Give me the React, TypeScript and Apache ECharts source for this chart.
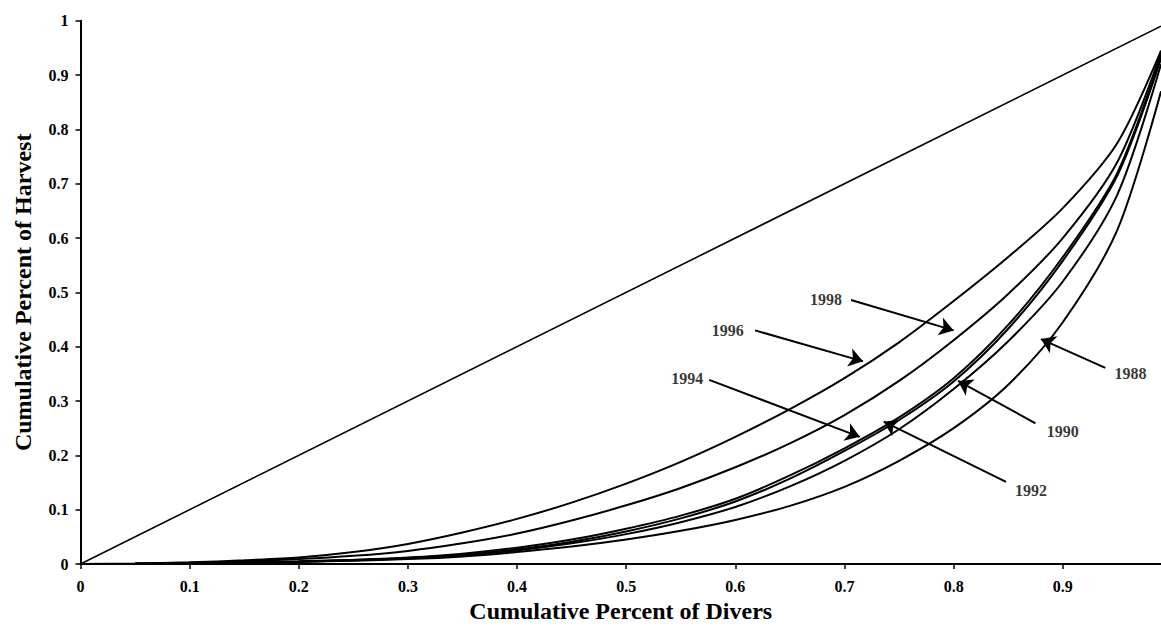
import { useEffect, useRef } from "react";
import * as echarts from "echarts";

const xPoints = [0, 0.05, 0.1, 0.15, 0.2, 0.25, 0.3, 0.35, 0.4, 0.45, 0.5, 0.55, 0.6, 0.65, 0.7, 0.75, 0.8, 0.85, 0.9, 0.95, 0.99];
const y1996 = [0, 0.001, 0.003, 0.007, 0.012, 0.022, 0.037, 0.058, 0.083, 0.113, 0.148, 0.188, 0.234, 0.285, 0.342, 0.408, 0.484, 0.565, 0.655, 0.775, 0.945];
const y1998 = [0, 0.0005, 0.002, 0.005, 0.009, 0.015, 0.024, 0.038, 0.056, 0.08, 0.108, 0.14, 0.178, 0.222, 0.274, 0.337, 0.412, 0.497, 0.6, 0.74, 0.94];
const y1994 = [0, 0.0003, 0.001, 0.003, 0.005, 0.008, 0.012, 0.019, 0.03, 0.045, 0.065, 0.089, 0.12, 0.163, 0.213, 0.27, 0.342, 0.44, 0.565, 0.72, 0.935];
const y1992 = [0, 0.0003, 0.001, 0.002, 0.004, 0.007, 0.011, 0.017, 0.027, 0.041, 0.06, 0.084, 0.115, 0.157, 0.208, 0.265, 0.336, 0.433, 0.558, 0.715, 0.93];
const y1990 = [0, 0.0003, 0.001, 0.002, 0.004, 0.007, 0.01, 0.016, 0.025, 0.038, 0.055, 0.077, 0.105, 0.143, 0.19, 0.248, 0.322, 0.41, 0.52, 0.68, 0.92];
const y1988 = [0, 0.0003, 0.001, 0.002, 0.004, 0.006, 0.009, 0.014, 0.022, 0.032, 0.045, 0.061, 0.081, 0.107, 0.142, 0.19, 0.25, 0.33, 0.445, 0.615, 0.87];
const equality = [[0, 0], [0.99, 0.99]];

const xTicks = [0, 0.1, 0.2, 0.3, 0.4, 0.5, 0.6, 0.7, 0.8, 0.9];

const labelYears = ["1998", "1996", "1994", "1992", "1990", "1988"];
const labelPos = [[0.683, 0.486], [0.593, 0.43], [0.556, 0.342], [0.871, 0.136], [0.9, 0.243], [0.962, 0.351]];
const arrowFrom = [[0.706, 0.486], [0.618, 0.43], [0.576, 0.339], [0.848, 0.151], [0.875, 0.259], [0.939, 0.361]];
const arrowTo = [[0.8, 0.43], [0.717, 0.373], [0.714, 0.234], [0.736, 0.262], [0.804, 0.337], [0.88, 0.414]];

const FONT = "'Liberation Serif', 'Times New Roman', serif";

function curve(name: string, ys: number[]) {
  return {
    name,
    type: "line",
    data: xPoints.map((x, i) => [x, ys[i]]),
    smooth: 0.3,
    showSymbol: false,
    symbol: "none",
    lineStyle: { color: "#000", width: 2 },
    z: 3,
  };
}

export default function App() {
  const ref = useRef<HTMLDivElement>(null);
  useEffect(() => {
    if (!ref.current) return;
    const chart = echarts.init(ref.current, null, { renderer: "svg" });
    chart.setOption({
      animation: false,
      backgroundColor: "#fff",
      grid: { left: 80.5, right: 0, top: 20.7, bottom: 74, containLabel: false },
      xAxis: {
        type: "value",
        min: 0,
        max: 0.99,
        interval: 0.1,
        name: "Cumulative Percent of Divers",
        nameLocation: "middle",
        nameGap: 34,
        nameTextStyle: { fontFamily: FONT, fontWeight: "bold", fontSize: 24, color: "#000" },
        axisLine: { lineStyle: { color: "#000", width: 2 } },
        axisTick: { show: true, length: 5, lineStyle: { color: "#000", width: 1.5 }, customValues: xTicks },
        axisLabel: {
          customValues: xTicks,
          margin: 14,
          fontFamily: FONT,
          fontWeight: "bold",
          fontSize: 16,
          color: "#000",
          formatter: (v: number) => (v > 0.95 ? "" : String(+v.toFixed(1))),
        },
        splitLine: { show: false },
      },
      yAxis: {
        type: "value",
        min: 0,
        max: 1,
        interval: 0.1,
        name: "Cumulative Percent of Harvest",
        nameLocation: "middle",
        nameGap: 46,
        nameTextStyle: { fontFamily: FONT, fontWeight: "bold", fontSize: 24, color: "#000" },
        axisLine: { show: true, lineStyle: { color: "#000", width: 2 } },
        axisTick: { show: true, length: 5, lineStyle: { color: "#000", width: 1.5 } },
        axisLabel: {
          margin: 12,
          fontFamily: FONT,
          fontWeight: "bold",
          fontSize: 16,
          color: "#000",
          formatter: (v: number) => String(+v.toFixed(1)),
        },
        splitLine: { show: false },
      },
      series: [
        {
          name: "Equality",
          type: "line",
          data: equality,
          showSymbol: false,
          symbol: "none",
          lineStyle: { color: "#000", width: 1.6 },
          markLine: {
            silent: true,
            symbol: ["none", "arrow"],
            symbolSize: 14,
            lineStyle: { color: "#000", width: 2, type: "solid" },
            label: { show: false },
            data: arrowFrom.map((f, i) => [{ coord: f }, { coord: arrowTo[i] }]),
          },
        },
        curve("1996", y1996),
        curve("1998", y1998),
        curve("1994", y1994),
        curve("1992", y1992),
        curve("1990", y1990),
        curve("1988", y1988),
        {
          name: "labels",
          type: "scatter",
          symbolSize: 0,
          data: labelPos.map((p, i) => ({ value: p, name: labelYears[i] })),
          label: {
            show: true,
            position: "inside",
            formatter: (p: any) => p.name,
            fontFamily: FONT,
            fontWeight: "bold",
            fontSize: 16,
            color: "#000",
          },
          z: 5,
        },
      ],
    });
    return () => chart.dispose();
  }, []);
  return (
    <div
      ref={ref}
      style={{ position: "absolute", left: 0, top: 0, width: 1161, height: 638, background: "#fff" }}
    />
  );
}
